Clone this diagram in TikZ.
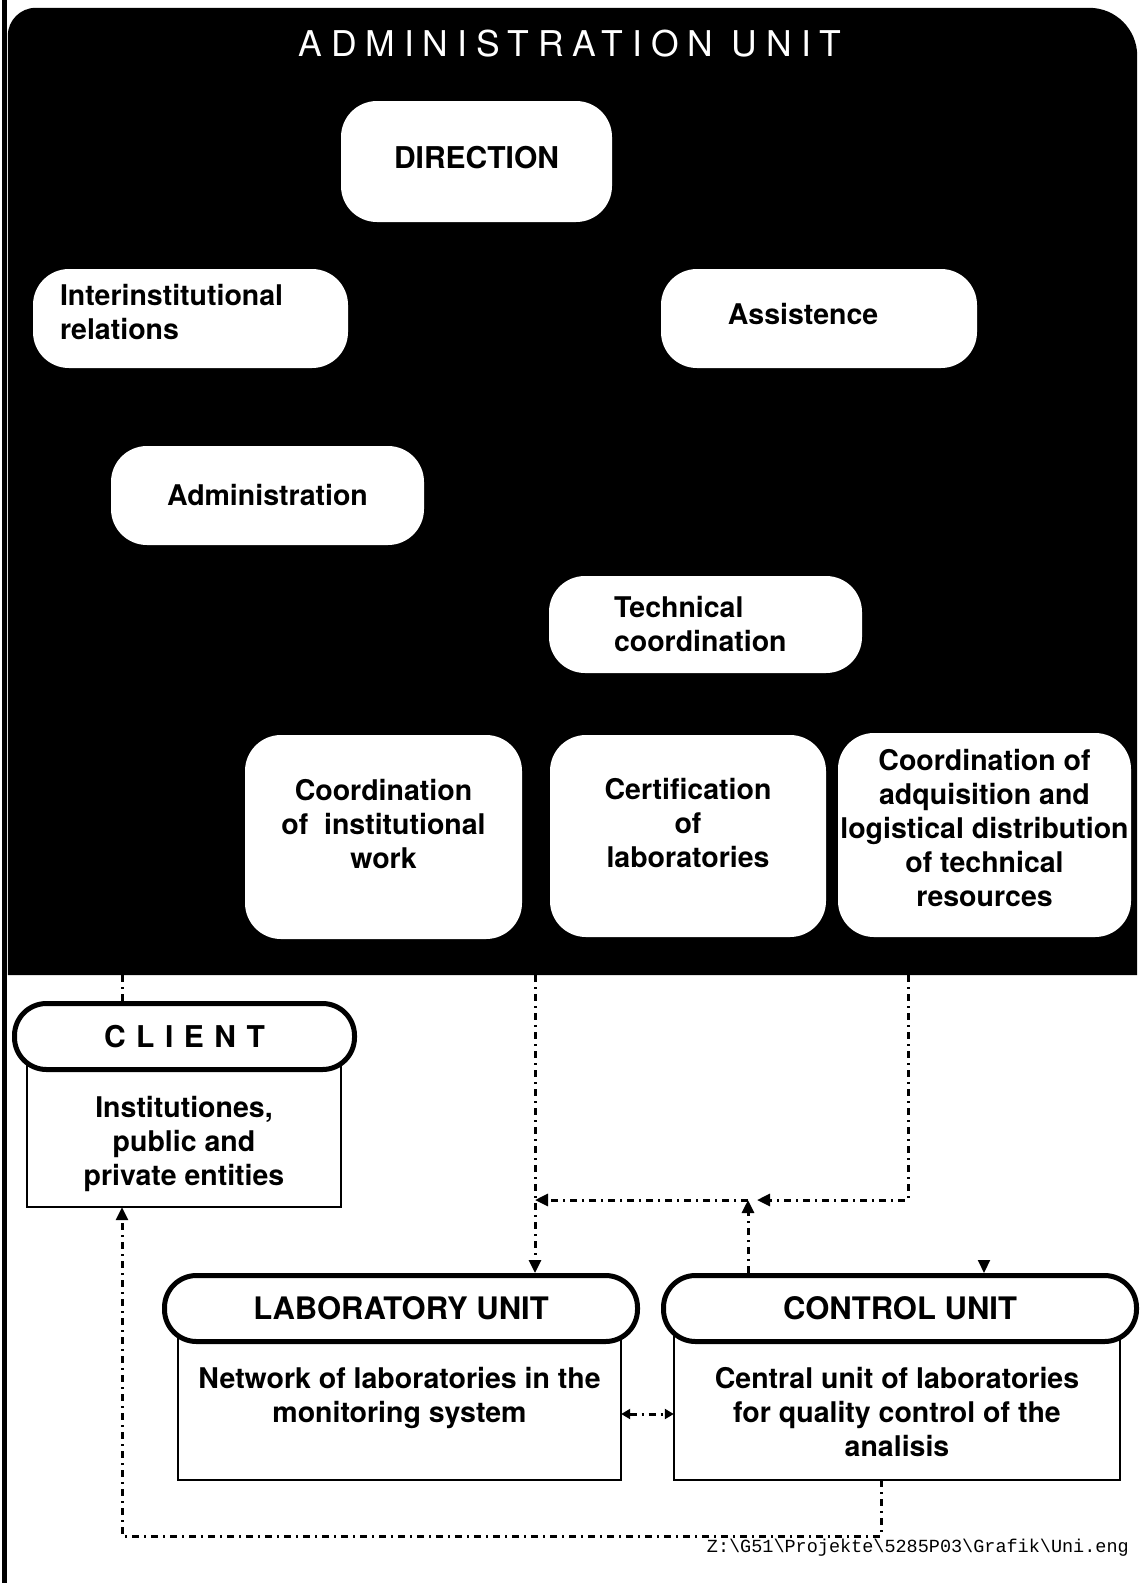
\documentclass[tikz,border=0pt]{standalone}
\usepackage{fontspec}
\setmainfont{TeX Gyre Heros}
\newfontfamily\titlefont[LetterSpace=25]{TeX Gyre Heros}
\newfontfamily\spacedfont[LetterSpace=35]{TeX Gyre Heros}
\newfontfamily\pathfont{Liberation Mono}
\usetikzlibrary{arrows.meta,calc}
\newcommand\lowr[1]{\rule[-#1]{0pt}{#1}}
\newcommand\bodyfnt{\fontsize{28.5}{34}\selectfont\bfseries}
\newcommand\headfnt{\fontsize{31}{36}\selectfont\bfseries}
\begin{document}
\begin{tikzpicture}[x=1pt,y=-1pt,
  abox/.style={fill=white, draw=none, rounded corners=36pt, inner sep=0pt, font=\bodyfnt, align=center},
  pill/.style={draw=black, fill=white, line width=5pt, rounded corners=32pt, inner sep=0pt, font=\headfnt, minimum height=66pt},
  body/.style={draw=none, inner sep=0pt, font=\bodyfnt, align=center},
  bodyline/.style={line width=2.5pt},
  conn/.style={line width=3pt, dash pattern=on 7pt off 5pt on 2pt off 5pt},
  tip/.style={-{Triangle[length=13pt,width=12pt]}},
  tips/.style={{Triangle[length=9pt,width=10pt]}-{Triangle[length=9pt,width=10pt]}}
]
\useasboundingbox (0,0) rectangle (1145,1583);
\fill[white] (0,0) rectangle (1145,1583);

% administration unit (black area)
\node[draw=none, inner sep=0pt, minimum width=1129pt, minimum height=967pt] (admin) at (572.5,491.5) {};
\fill[black] (admin.south west) [rounded corners=28pt] -- (admin.north west) -- (admin.north)
  [rounded corners=48pt] -- (admin.north east) [sharp corners] -- (admin.south east) -- cycle;
\draw[line width=5pt] (4,0) -- (4,1583);

\node[text=white, inner sep=0pt, font=\titlefont\fontsize{35.5}{40}\selectfont] (title) at (570,44) {ADMINISTRATION UNIT};

\node[abox, minimum width=271pt, minimum height=121pt, font=\fontsize{30}{34}\selectfont\bfseries] (direction) at (476.5,161.5) {DIRECTION\lowr{9pt}};
\node[abox, align=left, text width=261pt, inner xsep=27pt, minimum height=99pt] (inter) at (190.5,318.5) {Interinstitutional\\relations\lowr{13pt}};
\node[abox, minimum width=316pt, minimum height=99pt] (assist) at (819,318.5) {Assistence\hspace*{32pt}\lowr{9pt}};
\node[abox, minimum width=313pt, minimum height=99pt] (administration) at (267.5,495.5) {Administration};
\node[abox, align=left, text width=183pt, inner xsep=65pt, minimum height=97pt] (tech) at (705.5,624.5) {Technical\\coordination};
\node[abox, minimum width=277pt, minimum height=204pt] (coordinst) at (383.5,837) {Coordination\\of\ \ institutional\\work\lowr{26pt}};
\node[abox, minimum width=276pt, minimum height=202pt] (cert) at (688,836) {Certification\\of\\laboratories\lowr{27pt}};
\node[abox, minimum width=293pt, minimum height=204pt] (coordadq) at (984.5,835) {Coordination of\\adquisition and\\logistical distribution\\of technical\\resources\lowr{14pt}};

% client
\node[body, minimum width=314pt, minimum height=137pt] (clientBody) at (184,1138.5) {\rule{0pt}{33pt}Institutiones,\\public and\\private entities};
\draw[bodyline] (184.5,1036.5 -| clientBody.west) -- (clientBody.south west) -- (clientBody.south east) -- (184.5,1036.5 -| clientBody.east);
\node[pill, minimum width=340pt, font=\spacedfont\fontsize{30}{34}\selectfont\bfseries] (clientPill) at (184.5,1036.5) {CLIENT};

% laboratory unit
\node[body, minimum width=443pt, minimum height=137pt] (labBody) at (399.5,1411.5) {Network of laboratories in the\\monitoring system\lowr{34pt}};
\draw[bodyline] (401,1308.5 -| labBody.west) -- (labBody.south west) -- (labBody.south east) -- (401,1308.5 -| labBody.east);
\node[pill, minimum width=473pt] (labPill) at (401,1308.5) {LABORATORY UNIT};

% control unit
\node[body, minimum width=446pt, minimum height=137pt] (ctrlBody) at (897,1411.5) {Central unit of laboratories\\for quality control of the\\analisis};
\draw[bodyline] (900,1308.5 -| ctrlBody.west) -- (ctrlBody.south west) -- (ctrlBody.south east) -- (900,1308.5 -| ctrlBody.east);
\node[pill, minimum width=473pt] (ctrlPill) at (900,1308.5) {CONTROL UNIT};

% connector coordinates
\coordinate (xL) at (122,0);
\coordinate (xLab) at (535,0);
\coordinate (xR) at (908,0);
\coordinate (jn) at (748,1200);
\coordinate (jnR) at (757,1200);
\coordinate (sm) at (984,1261);
\coordinate (yD) at (0,1414);
\coordinate (loopL) at (122,1536);
\coordinate (loopR) at (881,1536);

\draw[conn] (admin.south -| xL) -- (clientPill.north -| xL);
\draw[conn,tip] (admin.south -| xLab) -- (labPill.north -| xLab);
\draw[conn,tip] (admin.south -| xR) -- (xR |- jn) -- (jnR);
\draw[conn,tip] (jn) -- (xLab |- jn);
\draw[conn,tip] (ctrlPill.north -| jn) -- (jn);
\draw[line width=2pt,tip] (sm) -- (ctrlPill.north -| sm);
\draw[conn,tips] (labBody.east |- yD) -- (ctrlBody.west |- yD);
\draw[conn,tip] (ctrlBody.south -| loopR) -- (loopR) -- (loopL) -- (clientBody.south -| loopL);

\node[anchor=east, inner sep=0pt, font=\pathfont\fontsize{18.5}{20}\selectfont] (path) at (1129,1548) {Z:\textbackslash G51\textbackslash Projekte\textbackslash 5285P03\textbackslash Grafik\textbackslash Uni.eng};
\end{tikzpicture}
\end{document}
